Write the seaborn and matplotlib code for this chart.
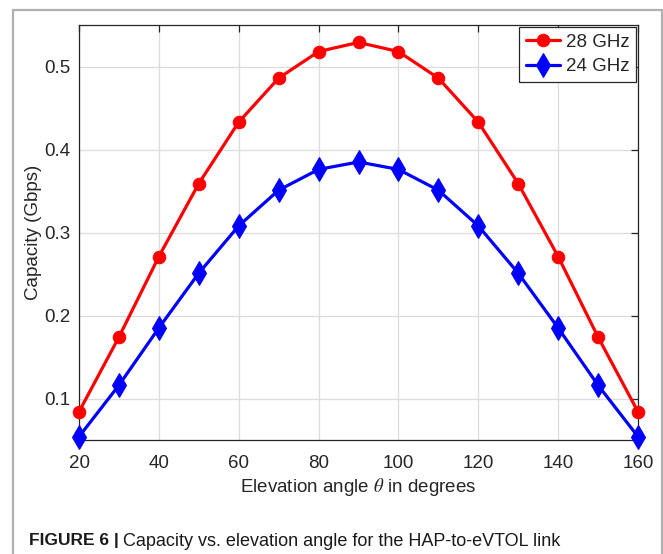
import numpy as np
import pandas as pd
import seaborn as sns
import matplotlib.pyplot as plt
from matplotlib.patches import Rectangle

# datos
angulos = [20, 30, 40, 50, 60, 70, 80, 90, 100, 110, 120, 130, 140, 150, 160]
cap_28 = [0.084, 0.174, 0.271, 0.359, 0.433, 0.486, 0.518, 0.529, 0.518, 0.486, 0.433, 0.359, 0.271, 0.174, 0.084]
cap_24 = [0.054, 0.116, 0.185, 0.251, 0.308, 0.351, 0.376, 0.385, 0.376, 0.351, 0.308, 0.251, 0.185, 0.116, 0.054]
x_ticks = [20, 40, 60, 80, 100, 120, 140, 160]
y_ticks = [0.1, 0.2, 0.3, 0.4, 0.5]

sns.set_style("whitegrid")
plt.rcParams['font.family'] = ['Liberation Sans', 'DejaVu Sans']
plt.rcParams['mathtext.fontset'] = 'stix'

fig = plt.figure(figsize=(6.63, 5.54), dpi=100)
ax = fig.add_axes([79/663, 1 - 440/554, 559/663, 415/554])

sns.lineplot(x=angulos, y=cap_28, ax=ax, color='#ff0000', lw=2.3, marker='o',
             markersize=9, markeredgecolor='#ff0000', label='28 GHz', clip_on=False, zorder=3)
sns.lineplot(x=angulos, y=cap_24, ax=ax, color='#0000ff', lw=2.3, marker='d',
             markersize=12, markeredgecolor='#0000ff', label='24 GHz', clip_on=False, zorder=3)

ax.set_xlim(20, 160)
ax.set_ylim(0.05, 0.55)
ax.set_xticks(x_ticks)
ax.set_yticks(y_ticks)
ax.grid(True, color='#dcdcdc', lw=0.9)
for s in ax.spines.values():
    s.set_color('#262626')
    s.set_linewidth(0.9)
ax.tick_params(direction='in', length=5, width=0.9, color='#262626',
               labelsize=13.5, top=True, right=True, labelcolor='#262626')
ax.tick_params(axis='x', pad=10.5)
ax.tick_params(axis='y', pad=6)
ax.set_xlabel(r'Elevation angle $\theta$ in degrees', fontsize=13.5, color='#262626', labelpad=3)
ax.set_ylabel('Capacity (Gbps)', fontsize=13.5, color='#262626', labelpad=2)

leg = ax.legend(loc='upper right', fontsize=13.5, frameon=True, fancybox=False,
                borderaxespad=0.1, handlelength=1.85, handletextpad=0.3,
                borderpad=0.35, labelspacing=0.4, framealpha=1)
leg.get_frame().set_edgecolor('#262626')
leg.get_frame().set_linewidth(0.9)

# marco gris alrededor de la figura
fig.patches.append(Rectangle((13/663, -0.05), 1 - 13/663 - 1.5/663, 1 - 9.5/554 + 0.05,
                             transform=fig.transFigure, fill=False,
                             edgecolor='#b0b0b0', lw=1.6))

# pie de figura
t1 = fig.text(29/663, 1 - 541/554, 'FIGURE 6 |', fontsize=12.5, fontweight='bold',
              color='#1a1a1a', va='center')
fig.canvas.draw()
bb = t1.get_window_extent()
fig.text((bb.x1 + 4) / fig.bbox.width, 1 - 541/554,
         'Capacity vs. elevation angle for the HAP-to-eVTOL link',
         fontsize=13, color='#1a1a1a', va='center')

plt.savefig('out.png', dpi=100)
